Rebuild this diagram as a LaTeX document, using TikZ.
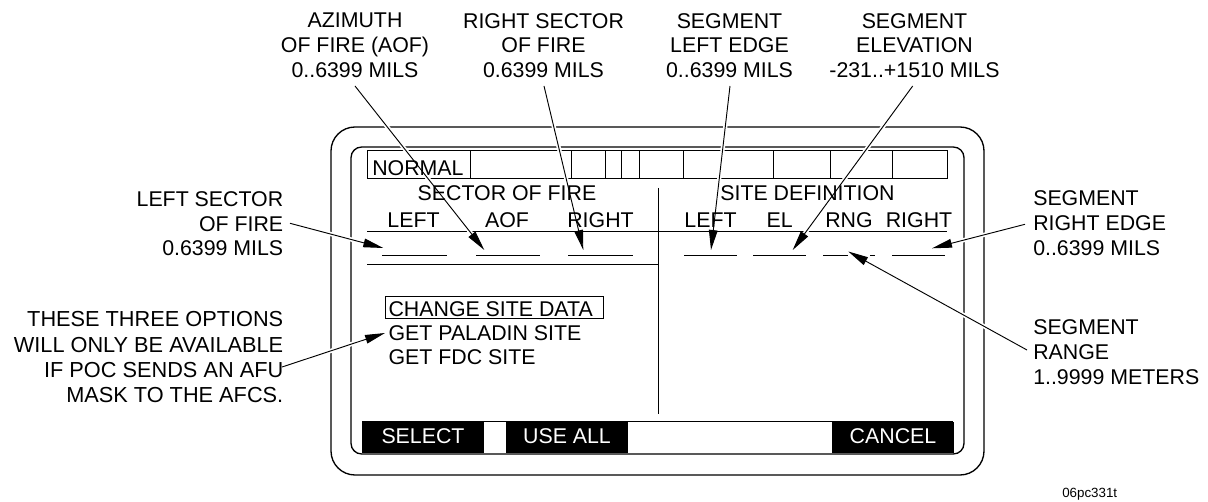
\documentclass[tikz,border=0pt]{standalone}
\usepackage{fontspec}
\setmainfont{Liberation Sans}
\usetikzlibrary{arrows.meta}
\begin{document}
\begin{tikzpicture}[x=0.75pt,y=-0.75pt,
  txt/.style={inner sep=0pt, font=\fontsize{16}{18.5}\selectfont},
  lbl/.style={txt, anchor=north, align=center},
  lblr/.style={txt, anchor=north east, align=right},
  lbll/.style={txt, anchor=north west, align=left},
  frame/.style={draw=black, line width=1pt},
  thinline/.style={draw=black, line width=0.75pt},
  callout/.style={draw=black, line width=0.7pt, -{Triangle[length=15pt,width=6.5pt]},
    preaction={draw=white, line width=3.2pt, -}},
  keybox/.style={fill=black, draw=black, line width=0.6pt},
  keytxt/.style={txt, text=white, anchor=base}]
\useasboundingbox (0,0) rectangle (1208,502);

% ---------- screen frames ----------
\draw[frame, rounded corners=18pt] (331,127) rectangle (984,475);
\draw[frame, rounded corners=8pt] (351,147) rectangle (964,454);

% status bar
\draw[thinline] (367,151) rectangle (947,179);
\foreach \xx in {470.7,571,605,621.7,639,683.3,773.3,830.7,892.7}
  \draw[thinline] (\xx,151) -- (\xx,179);

% header rule, lower rule and divider
\draw[thinline] (367,231.7) -- (947,231.7);
\draw[thinline] (367,264.3) -- (658,264.3);
\draw[thinline] (658,188) -- (658,414);

% entry blanks
\foreach \xa/\xb in {382/447,476/540,568/633,684/737,753/806,823/848,870/875,892/945}
  \draw[thinline] (\xa,256) -- (\xb,256);

% option box
\draw[thinline] (385,297) rectangle (603,319);

% soft-key bar
\draw[thinline] (362,422) -- (953,422);
\draw[keybox] (362,422) rectangle (483.3,452);
\draw[keybox] (506.7,422) rectangle (627.7,452);
\draw[keybox] (832.7,422) rectangle (953.3,452);

% ---------- callout end points ----------
\coordinate (aofA) at (355,86);     \coordinate (aofT) at (484.3,250);
\coordinate (rsfA) at (544,86);     \coordinate (rsfT) at (583.3,250);
\coordinate (sleA) at (730,86);     \coordinate (sleT) at (711,250);
\coordinate (selA) at (912.7,86);   \coordinate (selT) at (792.7,250);
\coordinate (lsfA) at (290,223.3);  \coordinate (lsfT) at (383.3,248);
\coordinate (thrA) at (282,367);    \coordinate (thrT) at (385,333);
\coordinate (sreA) at (1025,224.3); \coordinate (sreT) at (932,248.3);
\coordinate (srgA) at (1027,350);   \coordinate (srgT) at (848.3,251.5);

\draw[callout] (aofA) -- (aofT);
\draw[callout] (rsfA) -- (rsfT);
\draw[callout] (sleA) -- (sleT);
\draw[callout] (selA) -- (selT);
\draw[callout] (lsfA) -- (lsfT);
\draw[callout] (thrA) -- (thrT);
\draw[callout] (sreA) -- (sreT);
\draw[callout] (srgA) -- (srgT);

% ---------- screen texts ----------
\node[txt, anchor=base west] (normal) at (372,176) {NORMAL};
\node[txt, anchor=base] (sof) at (507,201) {SECTOR OF FIRE};
\node[txt, anchor=base] (sdef) at (807.5,201) {SITE DEFINITION};
\node[txt, anchor=base] (hl1) at (413.5,227.7) {LEFT};
\node[txt, anchor=base] (hl2) at (507,227.7) {AOF};
\node[txt, anchor=base] (hl3) at (600.5,227.7) {RIGHT};
\node[txt, anchor=base] (hr1) at (710.5,227.7) {LEFT};
\node[txt, anchor=base] (hr2) at (779.7,227.7) {EL};
\node[txt, anchor=base] (hr3) at (849,227.7) {RNG};
\node[txt, anchor=base] (hr4) at (919,227.7) {RIGHT};
\node[txt, anchor=base west] (opt1) at (388.3,316.7) {CHANGE SITE DATA};
\node[txt, anchor=base west] (opt2) at (388.3,340.7) {GET PALADIN SITE};
\node[txt, anchor=base west] (opt3) at (388.3,365) {GET FDC SITE};
\node[keytxt] (k1) at (423,444) {SELECT};
\node[keytxt] (k2) at (567,444) {USE ALL};
\node[keytxt] (k3) at (893,444) {CANCEL};

% ---------- callout labels ----------
\node[lbl] (aofl) at (355,12.9) {AZIMUTH\\OF FIRE (AOF)\\0..6399 MILS};
\node[lbl] (rsfl) at (543.5,12.9) {RIGHT SECTOR\\OF FIRE\\0.6399 MILS};
\node[lbl] (slel) at (729.5,12.9) {SEGMENT\\LEFT EDGE\\0..6399 MILS};
\node[lbl] (sell) at (914.5,12.9) {SEGMENT\\ELEVATION\\-231..+1510 MILS};
\node[lblr] (lsfl) at (283.5,191.3) {LEFT SECTOR\\OF FIRE\\0.6399 MILS};
\node[lblr, font=\fontsize{16.3}{19}\selectfont] (thrl) at (283.5,311.3) {THESE THREE OPTIONS\\WILL ONLY BE AVAILABLE\\IF POC SENDS AN AFU\\MASK TO THE AFCS.};
\node[lbll] (srel) at (1033,190.6) {SEGMENT\\RIGHT EDGE\\0..6399 MILS};
\node[lbll] (srgl) at (1033,319.6) {SEGMENT\\RANGE\\1..9999 METERS};

\node[txt, anchor=base west, font=\fontsize{10}{11}\selectfont] (cap) at (1062,498) {06pc331t};
\end{tikzpicture}
\end{document}
